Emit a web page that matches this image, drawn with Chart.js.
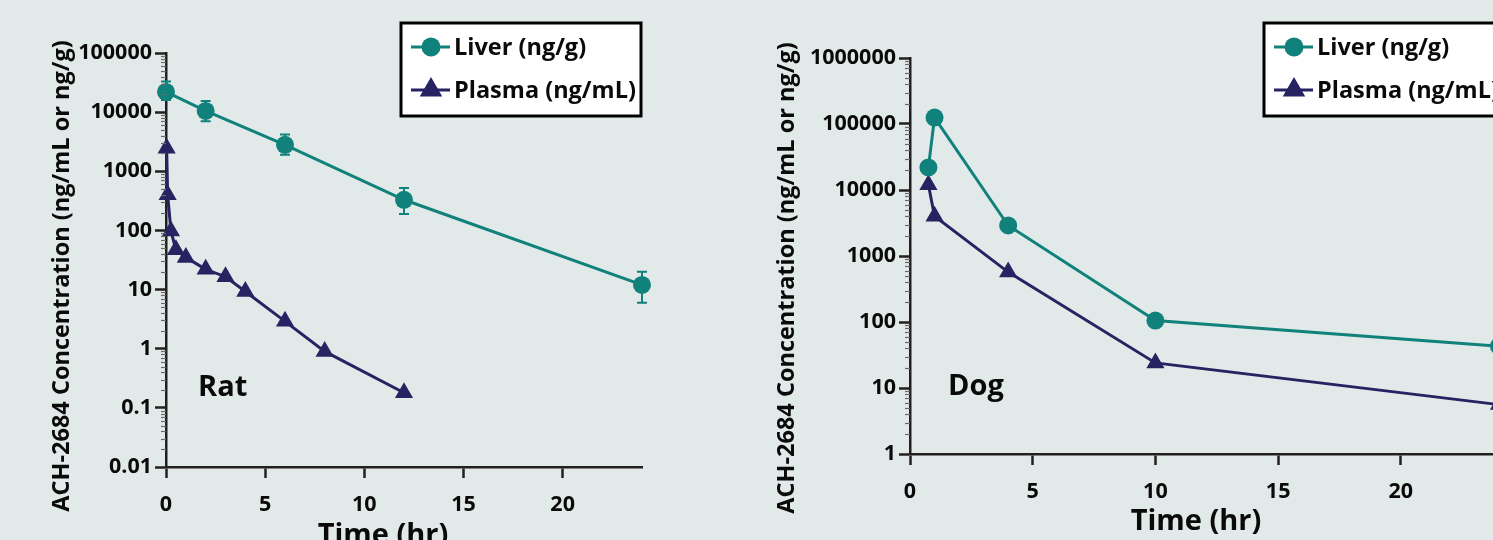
<!DOCTYPE html>
<html>
<head>
<meta charset="utf-8">
<script src="https://cdn.jsdelivr.net/npm/chart.js"></script>
<style>
  html, body { margin: 0; padding: 0; }
  body { width: 1493px; height: 540px; overflow: hidden; background: #e2eae9; position: relative; }
  #ratBox { position: absolute; left: 0; top: 0; width: 700px; height: 540px; }
  #dogBox { position: absolute; left: 700px; top: 0; width: 870px; height: 540px; }
</style>
</head>
<body>
<div id="ratBox"><canvas id="rat" width="700" height="540"></canvas></div>
<div id="dogBox"><canvas id="dog" width="870" height="540"></canvas></div>
<script>
// ---------------- DATA ----------------
const seriesNames = ['Liver (ng/g)', 'Plasma (ng/mL)'];
const yAxisTitle = 'ACH-2684 Concentration (ng/mL or ng/g)';
const xAxisTitle = 'Time (hr)';

// Rat
const ratLiverTime = [0, 2, 6, 12, 24];
const ratLiverConc = [22000, 10500, 2800, 330, 12];
const ratLiverHigh = [33000, 15500, 4200, 520, 20];
const ratLiverLow  = [16000, 7000, 1900, 190, 6];
const ratPlasmaTime = [0.033, 0.083, 0.25, 0.5, 1, 2, 3, 4, 6, 8, 12];
const ratPlasmaConc = [2450, 400, 98, 47, 35, 22, 16.5, 9.3, 2.9, 0.9, 0.18];
const ratYTicks = [0.01, 0.1, 1, 10, 100, 1000, 10000, 100000];
const ratYTickLabels = ['0.01', '0.1', '1', '10', '100', '1000', '10000', '100000'];

// Dog
const dogTime = [0.75, 1, 4, 10, 24];
const dogLiverConc = [22000, 125000, 2900, 105, 43];
const dogPlasmaConc = [12000, 4000, 570, 24, 5.6];
const dogYTicks = [1, 10, 100, 1000, 10000, 100000, 1000000];
const dogYTickLabels = ['1', '10', '100', '1000', '10000', '100000', '1000000'];

const xTicks = [0, 5, 10, 15, 20];
const xTickLabels = ['0', '5', '10', '15', '20'];

// ---------------- STYLE ----------------
const TEAL = '#11817b';
const NAVY = '#272262';
const AXIS = '#231f20';
const TEXT = '#0a0a0a';
const FONT = "'Open Sans', Lato, 'DejaVu Sans', sans-serif";

function pts(xs, ys) { return xs.map((x, i) => ({ x: x, y: ys[i] })); }

function drawMarker(ctx, style, x, y, r, color) {
  ctx.save();
  ctx.fillStyle = color;
  ctx.beginPath();
  if (style === 'circle') {
    ctx.arc(x, y, r, 0, Math.PI * 2);
  } else {
    let a = 0;
    ctx.moveTo(x + Math.sin(a) * r, y - Math.cos(a) * r);
    a += 2 * Math.PI / 3;
    ctx.lineTo(x + Math.sin(a) * r, y - Math.cos(a) * r);
    a += 2 * Math.PI / 3;
    ctx.lineTo(x + Math.sin(a) * r, y - Math.cos(a) * r);
    ctx.closePath();
  }
  ctx.fill();
  ctx.restore();
}

const decorPlugin = {
  id: 'decor',
  beforeDatasetsDraw(chart, args, o) {
    if (!o.errHigh) return;
    const ctx = chart.ctx;
    const ys = chart.scales.y;
    const meta = chart.getDatasetMeta(0);
    ctx.save();
    ctx.strokeStyle = TEAL;
    ctx.lineWidth = 2;
    meta.data.forEach((el, i) => {
      const x = el.x;
      const yh = ys.getPixelForValue(o.errHigh[i]);
      const yl = ys.getPixelForValue(o.errLow[i]);
      ctx.beginPath();
      ctx.moveTo(x, yh); ctx.lineTo(x, yl);
      ctx.moveTo(x - 5, yh); ctx.lineTo(x + 5, yh);
      ctx.moveTo(x - 5, yl); ctx.lineTo(x + 5, yl);
      ctx.stroke();
    });
    ctx.restore();
  },
  afterDraw(chart, args, o) {
    const ctx = chart.ctx;
    const ys = chart.scales.y;
    const area = chart.chartArea;
    // minor log ticks
    ctx.save();
    ctx.strokeStyle = '#6a6a6a';
    ctx.lineWidth = 1.2;
    const lo = Math.round(Math.log10(ys.min)), hi = Math.round(Math.log10(ys.max));
    for (let e = lo; e < hi; e++) {
      for (let k = 2; k <= 9; k++) {
        const v = k * Math.pow(10, e);
        const py = Math.round(ys.getPixelForValue(v)) + 0.5;
        ctx.beginPath();
        ctx.moveTo(area.left - 5, py);
        ctx.lineTo(area.left, py);
        ctx.stroke();
      }
    }
    ctx.restore();

    ctx.save();
    ctx.fillStyle = TEXT;
    // y title
    ctx.font = 'bold 23.5px ' + FONT;
    ctx.textAlign = 'center';
    ctx.textBaseline = 'alphabetic';
    ctx.translate(o.yTitle.x, o.yTitle.y);
    ctx.rotate(-Math.PI / 2);
    ctx.fillText(yAxisTitle, 0, 0);
    ctx.restore();

    ctx.save();
    ctx.fillStyle = TEXT;
    ctx.font = 'bold 29px ' + FONT;
    ctx.textAlign = 'center';
    ctx.textBaseline = 'alphabetic';
    ctx.fillText(xAxisTitle, o.xTitle.x, o.xTitle.y);
    // panel label
    ctx.textAlign = 'left';
    ctx.font = 'bold 29px ' + FONT;
    ctx.fillText(o.panel.text, o.panel.x, o.panel.y);
    ctx.restore();

    // legend box
    const L = o.legend;
    ctx.save();
    ctx.fillStyle = '#ffffff';
    ctx.fillRect(L.x, L.y, L.w, L.h);
    ctx.strokeStyle = '#000000';
    ctx.lineWidth = 3;
    ctx.strokeRect(L.x, L.y, L.w, L.h);
    chart.data.datasets.forEach((ds, i) => {
      const cy = L.y + 24 + i * 43;
      ctx.strokeStyle = ds.borderColor;
      ctx.lineWidth = 3;
      ctx.beginPath();
      ctx.moveTo(L.x + 10, cy);
      ctx.lineTo(L.x + 49, cy);
      ctx.stroke();
      if (ds.pointStyle === 'circle') drawMarker(ctx, 'circle', L.x + 30, cy, 9.5, ds.backgroundColor);
      else drawMarker(ctx, 'triangle', L.x + 30, cy, 13, ds.backgroundColor);
      ctx.fillStyle = TEXT;
      ctx.font = 'bold 23.5px ' + FONT;
      ctx.textAlign = 'left';
      ctx.textBaseline = 'middle';
      ctx.fillText(ds.label, L.x + 53, cy + 1);
    });
    ctx.restore();
  }
};

function makeChart(id, cfg) {
  const tickFont = { family: FONT, size: 21.5, weight: 'bold' };
  return new Chart(document.getElementById(id), {
    type: 'scatter',
    data: {
      datasets: [
        {
          label: seriesNames[0],
          data: pts(cfg.liverT, cfg.liverC),
          showLine: true,
          clip: false,
          borderColor: TEAL,
          backgroundColor: TEAL,
          borderWidth: 3,
          pointStyle: 'circle',
          pointRadius: 9,
          pointBorderWidth: 0,
          pointHoverRadius: 9
        },
        {
          label: seriesNames[1],
          data: pts(cfg.plasmaT, cfg.plasmaC),
          showLine: true,
          clip: false,
          borderColor: NAVY,
          backgroundColor: NAVY,
          borderWidth: 3,
          pointStyle: 'triangle',
          pointRadius: 10.5,
          pointBorderWidth: 0,
          pointHoverRadius: 10.5
        }
      ]
    },
    options: {
      responsive: false,
      animation: false,
      events: [],
      layout: { padding: cfg.padding },
      plugins: {
        legend: { display: false },
        tooltip: { enabled: false },
        decor: cfg.decor
      },
      scales: {
        x: {
          type: 'linear',
          min: 0,
          max: 24,
          afterBuildTicks: s => { s.ticks = xTicks.map(v => ({ value: v })); },
          afterFit: s => { s.height = cfg.xHeight; },
          ticks: {
            font: tickFont,
            color: TEXT,
            padding: 14,
            maxRotation: 0,
            callback: (v) => xTickLabels[xTicks.indexOf(v)]
          },
          grid: { drawOnChartArea: false, drawTicks: true, tickLength: 11, tickWidth: 2.5, tickColor: AXIS, color: AXIS },
          border: { display: true, color: AXIS, width: 2.5 },
          title: { display: false }
        },
        y: {
          type: 'logarithmic',
          min: cfg.yTicks[0],
          max: cfg.yTicks[cfg.yTicks.length - 1],
          afterBuildTicks: s => { s.ticks = cfg.yTicks.map(v => ({ value: v, major: true })); },
          afterFit: s => { s.width = cfg.yWidth; },
          ticks: {
            font: tickFont,
            color: TEXT,
            padding: 3,
            autoSkip: false,
            callback: (v) => cfg.yLabels[cfg.yTicks.indexOf(v)]
          },
          grid: { drawOnChartArea: false, drawTicks: true, tickLength: 11, tickWidth: 2.5, tickColor: AXIS, color: AXIS },
          border: { display: true, color: AXIS, width: 2.5 },
          title: { display: false }
        }
      }
    },
    plugins: [decorPlugin]
  });
}

makeChart('rat', {
  liverT: ratLiverTime, liverC: ratLiverConc,
  plasmaT: ratPlasmaTime, plasmaC: ratPlasmaConc,
  yTicks: ratYTicks, yLabels: ratYTickLabels,
  padding: { left: 0, top: 53, right: 58, bottom: 0 },
  yWidth: 166, xHeight: 73,
  decor: {
    errHigh: ratLiverHigh, errLow: ratLiverLow,
    yTitle: { x: 69, y: 276 },
    xTitle: { x: 383, y: 544 },
    panel: { text: 'Rat', x: 198, y: 396 },
    legend: { x: 401, y: 23, w: 240, h: 93 }
  }
});

makeChart('dog', {
  liverT: dogTime, liverC: dogLiverConc,
  plasmaT: dogTime, plasmaC: dogPlasmaConc,
  yTicks: dogYTicks, yLabels: dogYTickLabels,
  padding: { left: 0, top: 58, right: 71, bottom: 0 },
  yWidth: 210, xHeight: 86,
  decor: {
    yTitle: { x: 94, y: 278 },
    xTitle: { x: 496, y: 530 },
    panel: { text: 'Dog', x: 248, y: 395 },
    legend: { x: 564, y: 23, w: 240, h: 93 }
  }
});
</script>
</body>
</html>
